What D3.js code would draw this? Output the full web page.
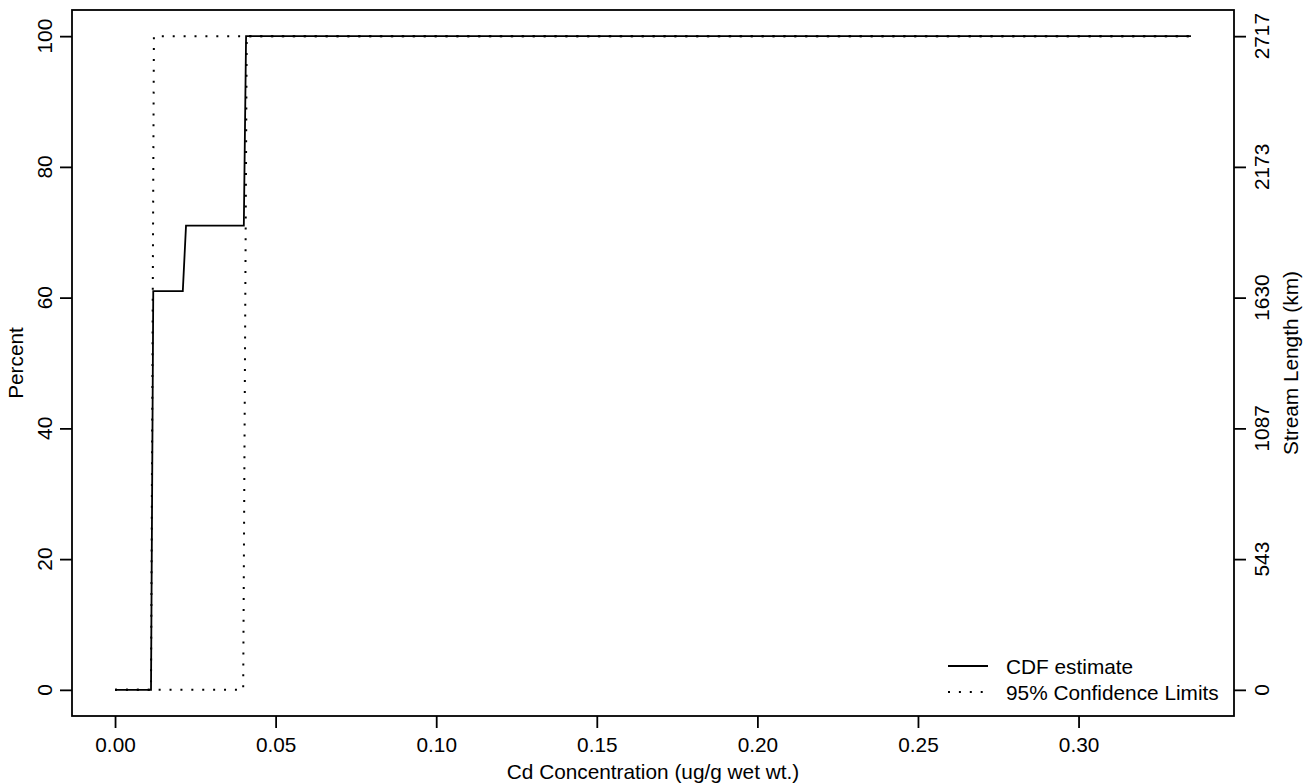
<!DOCTYPE html>
<html><head><meta charset="utf-8">
<script src="https://cdn.jsdelivr.net/npm/d3@7"></script>
<style>
body{margin:0;background:#fff}
text{font-family:"Liberation Sans",Arial,Helvetica,sans-serif;fill:#000}
</style>
</head><body>
<svg id="c" width="1311" height="784"></svg>
<script>
// ---- data ----
const cdfX = [0, 0.0112, 0.0119, 0.0211, 0.0221, 0.0401, 0.0408, 0.335];
const cdfY = [0, 0, 61, 61, 71, 71, 100, 100];
const upperX = [0, 0.0112, 0.0121, 0.335];
const upperY = [0, 0, 100, 100];
const lowerX = [0, 0.0399, 0.0410, 0.335];
const lowerY = [0, 0, 100, 100];
const xTicks = [0, 0.05, 0.10, 0.15, 0.20, 0.25, 0.30];
const xTickLabels = ["0.00", "0.05", "0.10", "0.15", "0.20", "0.25", "0.30"];
const yTicks = [0, 20, 40, 60, 80, 100];
const yTickLabels = ["0", "20", "40", "60", "80", "100"];
const totalLength = 2717;
const rightTickLabels = ["0", "543", "1087", "1630", "2173", "2717"];
const legendLabels = ["CDF estimate", "95% Confidence Limits"];

// ---- layout ----
const L = 72, R = 1234, T = 10, B = 716;
const FS = 20.8;
const xMin = 0, xMax = 0.335;
const xPad = (xMax - xMin) * 0.04;
const x = d3.scaleLinear().domain([xMin - xPad, xMax + xPad]).range([L, R]);
const y = d3.scaleLinear().domain([-4, 104]).range([B, T]);
const yR = d3.scaleLinear().domain([0, totalLength]).range([y(0), y(100)]);

const svg = d3.select("#c");
const g = svg.append("g");

const LW = 1.8;
const line = d3.line().x(d => x(d[0])).y(d => y(d[1]));

// confidence limits (dotted)
[[upperX, upperY], [lowerX, lowerY]].forEach(([xs, ys]) => {
  g.append("path")
    .attr("d", line(xs.map((v, i) => [v, ys[i]])))
    .attr("fill", "none").attr("stroke", "#000")
    .attr("stroke-width", 2).attr("stroke-dasharray", "2,8.9");
});
// CDF
g.append("path")
  .attr("d", line(cdfX.map((v, i) => [v, cdfY[i]])))
  .attr("fill", "none").attr("stroke", "#000").attr("stroke-width", LW)
  .attr("stroke-linejoin", "miter");

// box
g.append("rect").attr("x", L).attr("y", T).attr("width", R - L).attr("height", B - T)
  .attr("fill", "none").attr("stroke", "#000").attr("stroke-width", LW);

// bottom axis
const xa = g.append("g").attr("transform", `translate(0,${B})`)
  .call(d3.axisBottom(x).tickValues(xTicks).tickSize(12).tickPadding(9.5)
    .tickFormat((d, i) => xTickLabels[i]));
xa.select(".domain").remove();
xa.selectAll("line").attr("stroke-width", LW);
xa.selectAll("text").attr("font-size", FS).attr("font-family", null);

// left axis
const ya = g.append("g").attr("transform", `translate(${L},0)`)
  .call(d3.axisLeft(y).tickValues(yTicks).tickSize(12).tickFormat(""));
ya.select(".domain").remove();
ya.selectAll("line").attr("stroke-width", LW);
yTicks.forEach((t, i) => {
  g.append("text").attr("transform", `translate(52,${y(t)}) rotate(-90)`)
    .attr("text-anchor", "middle").attr("font-size", FS).text(yTickLabels[i]);
});

// right axis
const rightVals = yTicks.map(p => p / 100 * totalLength);
const ra = g.append("g").attr("transform", `translate(${R},0)`)
  .call(d3.axisRight(yR).tickValues(rightVals).tickSize(12).tickFormat(""));
ra.select(".domain").remove();
ra.selectAll("line").attr("stroke-width", LW);
rightVals.forEach((v, i) => {
  g.append("text").attr("transform", `translate(1269,${yR(v)}) rotate(-90)`)
    .attr("text-anchor", "middle").attr("font-size", FS).text(rightTickLabels[i]);
});

// titles
g.append("text").attr("x", (L + R) / 2).attr("y", 779).attr("text-anchor", "middle")
  .attr("font-size", FS).text("Cd Concentration (ug/g wet wt.)");
g.append("text").attr("transform", `translate(23,${(T + B) / 2}) rotate(-90)`)
  .attr("text-anchor", "middle").attr("font-size", FS).text("Percent");
g.append("text").attr("transform", `translate(1298,${(T + B) / 2}) rotate(-90)`)
  .attr("text-anchor", "middle").attr("font-size", FS).text("Stream Length (km)");

// legend
const lg = g.append("g");
const rows = [666, 692];
lg.append("line").attr("x1", 948).attr("x2", 988).attr("y1", rows[0]).attr("y2", rows[0])
  .attr("stroke", "#000").attr("stroke-width", LW);
lg.append("line").attr("x1", 948).attr("x2", 988).attr("y1", rows[1]).attr("y2", rows[1])
  .attr("stroke", "#000").attr("stroke-width", 2).attr("stroke-dasharray", "2,8.9");
legendLabels.forEach((s, i) => {
  lg.append("text").attr("x", 1006).attr("y", rows[i] + 7.5).attr("font-size", FS).text(s);
});
</script>
</body></html>
